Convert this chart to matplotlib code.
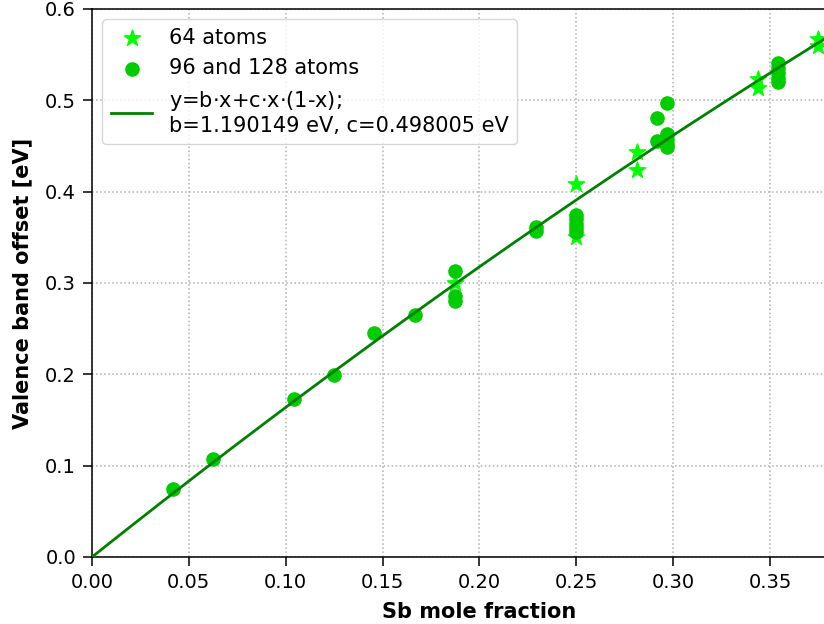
import matplotlib
matplotlib.use('Agg')
import matplotlib.pyplot as plt
import numpy as np

# fit parameters from the legend
b = 1.190149
c = 0.498005

# 64 atom supercells
x_64 = [0.1875, 0.25, 0.25, 0.28125, 0.28125, 0.34375, 0.34375, 0.375, 0.375]
y_64 = [0.300, 0.408, 0.350, 0.443, 0.424, 0.523, 0.514, 0.567, 0.560]

# 96 and 128 atom supercells
x_big = [0.0417, 0.0625, 0.1042, 0.125, 0.1458, 0.1667,
         0.1875, 0.1875, 0.1875,
         0.2292, 0.2292,
         0.25, 0.25, 0.25, 0.25, 0.25,
         0.2917, 0.2917,
         0.2969, 0.2969, 0.2969, 0.2969, 0.2969,
         0.3542, 0.3542, 0.3542, 0.3542, 0.3542]
y_big = [0.075, 0.107, 0.173, 0.199, 0.245, 0.265,
         0.313, 0.286, 0.280,
         0.361, 0.357,
         0.375, 0.370, 0.365, 0.360, 0.356,
         0.481, 0.456,
         0.497, 0.463, 0.458, 0.452, 0.449,
         0.541, 0.535, 0.530, 0.525, 0.520]

fig = plt.figure(figsize=(8.24, 6.24), dpi=100)
# axes run past the right edge of the figure, as in the cropped original
x_max = 0.4
ax = fig.add_axes([92/824, 67/624, x_max*1937/824, 548/624])

ax.scatter(x_64, y_64, marker='*', s=150, color='#00ff00', label='64 atoms', zorder=3)
ax.scatter(x_big, y_big, marker='o', s=90, color='#00cc00', label='96 and 128 atoms', zorder=3)

xf = np.linspace(0, x_max, 200)
yf = b*xf + c*xf*(1 - xf)
ax.plot(xf, yf, color='green', lw=2.0,
        label='y=b$\\cdot$x+c$\\cdot$x$\\cdot$(1-x);\nb=%f eV, c=%f eV' % (b, c), zorder=4)

ax.set_xlim(0, x_max)
ax.set_ylim(0, 0.6)
ax.set_xticks(np.arange(0, 0.36, 0.05))
ax.set_yticks(np.arange(0, 0.61, 0.1))
ax.tick_params(labelsize=14, length=6.5, width=1.1, pad=5)
for sp in ax.spines.values():
    sp.set_linewidth(1.1)
ax.grid(True, linestyle=':', color='#b0b0b0', lw=1.1)
ax.set_xlabel('Sb mole fraction', fontweight='bold', fontsize=15, labelpad=7)
ax.set_ylabel('Valence band offset [eV]', fontweight='bold', fontsize=15, labelpad=9)
ax.legend(loc='upper left', fontsize=15)

fig.savefig('out.png', dpi=100)
